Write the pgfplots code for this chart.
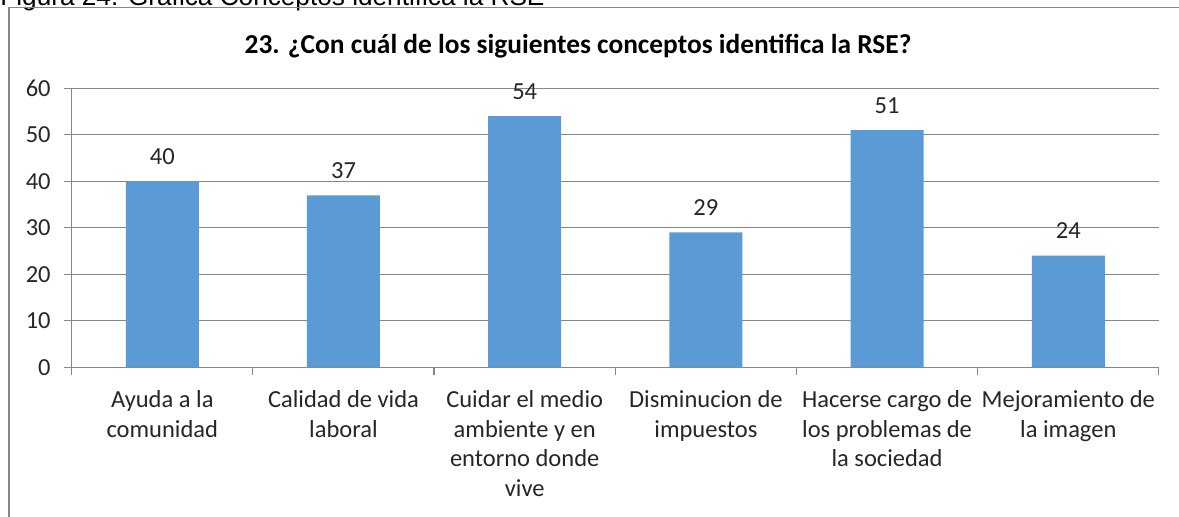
\documentclass[border=0pt]{standalone}
\usepackage{pgfplots}
\pgfplotsset{compat=1.18}
\usepackage{fontspec}
\setmainfont{Carlito}
\newfontfamily\capfont{Liberation Sans}
\definecolor{barblue}{HTML}{5B9BD5}
\definecolor{gridgray}{HTML}{878787}
\definecolor{txt}{HTML}{262626}
\begin{document}
\begin{tikzpicture}
\useasboundingbox (0,0) rectangle (589.5pt,-258pt);
\begin{scope}
\clip (0,0) rectangle (589.5pt,-258pt);
\node[anchor=base west, inner sep=0, font=\capfont\fontsize{13.1}{15}\selectfont, text=black] at (0,-2.6pt) {Figura 24. Gráfica Conceptos identifica la RSE};
\draw[gridgray, line width=0.6pt] (4.5pt,-270pt) -- (4.5pt,-3.75pt) -- (600pt,-3.75pt);
\end{scope}
\node[anchor=base, inner sep=0, font=\bfseries\fontsize{13.7}{16}\selectfont, text=black] at (289pt,-26.7pt) {23. ¿Con cuál de los siguientes conceptos identifica la RSE?};
\begin{axis}[
  at={(35.85pt,-183.65pt)}, anchor=south west,
  scale only axis, width=543.6pt, height=139.5pt,
  ymin=0, ymax=60, ytick={0,10,...,60},
  xmin=-0.5, xmax=5.5,
  xtick={-0.5,0.5,1.5,2.5,3.5,4.5,5.5}, xticklabels={},
  extra x ticks={0,1,2,3,4,5},
  extra x tick labels={Ayuda a la\\comunidad, Calidad de vida\\laboral, Cuidar el medio\\ambiente y en\\entorno donde\\vive, Disminucion de\\impuestos, Hacerse cargo de\\los problemas de\\la sociedad, Mejoramiento de\\la imagen},
  extra x tick style={major tick length=0pt, xticklabel style={yshift=-8.3pt}},
  axis lines*=left,
  axis line style={gridgray, line width=0.6pt},
  tick align=outside,
  major tick length=4pt,
  tick style={gridgray, line width=0.6pt},
  ymajorgrids, grid style={gridgray, line width=0.6pt},
  ybar, bar width=36.5pt,
  /pgf/number format/assume math mode=true,
  ticklabel style={font=\fontsize{12.25}{14.75}\selectfont, text=txt},
  yticklabel style={xshift=-3pt},
  xticklabel style={align=center},
  nodes near coords,
  every node near coord/.append style={font=\fontsize{12.25}{14.75}\selectfont, text=txt, anchor=base, yshift=8.5pt},
]
\addplot[fill=barblue, draw=none] coordinates {(0,40) (1,37) (2,54) (3,29) (4,51) (5,24)};
\end{axis}
\end{tikzpicture}
\end{document}
